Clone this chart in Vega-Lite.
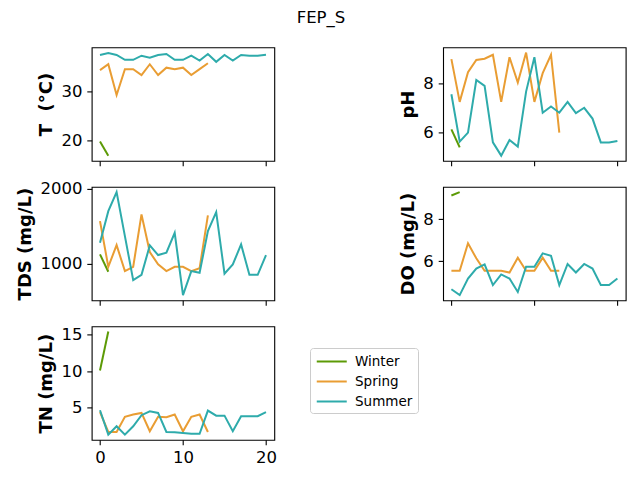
{
  "$schema": "https://vega.github.io/schema/vega-lite/v6.json",
  "autosize": {"type": "none"},
  "padding": {"left": 91.7, "top": 47.4, "right": 548.3, "bottom": 432.6},
  "title": {"text": "FEP_S", "anchor": "middle", "frame": "bounds", "fontSize": 16.5, "fontWeight": "normal", "color": "black", "font": "DejaVu Sans", "offset": 20},
  "datasets": {
    "d": [
      {"s": "Winter", "x": 0, "T": 19.8, "pH": 6.12, "TDS": 1120, "DO": 9.14, "TN": 10.08},
      {"s": "Winter", "x": 1, "T": 16.9, "pH": 5.39, "TDS": 888, "DO": 9.30, "TN": 15.46},
      {"s": "Spring", "x": 0, "T": 34.4, "pH": 8.98, "TDS": 1564, "DO": 5.53, "TN": 4.31},
      {"s": "Spring", "x": 1, "T": 35.6, "pH": 7.24, "TDS": 955, "DO": 5.53, "TN": 1.57},
      {"s": "Spring", "x": 2, "T": 29.3, "pH": 8.45, "TDS": 1244, "DO": 6.85, "TN": 1.57},
      {"s": "Spring", "x": 3, "T": 34.6, "pH": 8.95, "TDS": 897, "DO": 6.13, "TN": 3.67},
      {"s": "Spring", "x": 4, "T": 34.6, "pH": 9.0, "TDS": 955, "DO": 5.53, "TN": 3.99},
      {"s": "Spring", "x": 5, "T": 33.4, "pH": 9.16, "TDS": 1653, "DO": 5.53, "TN": 4.21},
      {"s": "Spring", "x": 6, "T": 35.6, "pH": 7.24, "TDS": 1151, "DO": 5.53, "TN": 1.67},
      {"s": "Spring", "x": 7, "T": 33.4, "pH": 9.06, "TDS": 987, "DO": 5.45, "TN": 3.67},
      {"s": "Spring", "x": 8, "T": 34.9, "pH": 8.03, "TDS": 897, "DO": 6.16, "TN": 3.62},
      {"s": "Spring", "x": 9, "T": 34.6, "pH": 9.25, "TDS": 955, "DO": 5.53, "TN": 3.99},
      {"s": "Spring", "x": 10, "T": 34.9, "pH": 7.24, "TDS": 955, "DO": 5.53, "TN": 1.67},
      {"s": "Spring", "x": 11, "T": 33.4, "pH": 8.41, "TDS": 897, "DO": 6.16, "TN": 3.67},
      {"s": "Spring", "x": 12, "T": 34.6, "pH": 9.16, "TDS": 935, "DO": 5.53, "TN": 3.99},
      {"s": "Spring", "x": 13, "T": 35.8, "pH": 5.99, "TDS": 1640, "DO": 5.53, "TN": 1.57},
      {"s": "Summer", "x": 0, "T": 37.5, "pH": 7.55, "TDS": 1275, "DO": 4.65, "TN": 4.58},
      {"s": "Summer", "x": 1, "T": 37.9, "pH": 5.62, "TDS": 1697, "DO": 4.37, "TN": 1.2},
      {"s": "Summer", "x": 2, "T": 37.5, "pH": 5.99, "TDS": 1951, "DO": 5.16, "TN": 2.36},
      {"s": "Summer", "x": 3, "T": 36.5, "pH": 8.13, "TDS": 1364, "DO": 5.64, "TN": 1.2},
      {"s": "Summer", "x": 4, "T": 36.5, "pH": 7.89, "TDS": 777, "DO": 5.84, "TN": 2.36},
      {"s": "Summer", "x": 5, "T": 37.35, "pH": 5.59, "TDS": 848, "DO": 4.85, "TN": 3.89},
      {"s": "Summer", "x": 6, "T": 36.95, "pH": 5.05, "TDS": 1240, "DO": 5.36, "TN": 4.44},
      {"s": "Summer", "x": 7, "T": 37.5, "pH": 5.69, "TDS": 1111, "DO": 5.16, "TN": 4.21},
      {"s": "Summer", "x": 8, "T": 37.7, "pH": 5.42, "TDS": 1142, "DO": 4.52, "TN": 1.57},
      {"s": "Summer", "x": 9, "T": 36.5, "pH": 7.66, "TDS": 1408, "DO": 5.73, "TN": 1.52},
      {"s": "Summer", "x": 10, "T": 36.5, "pH": 9.06, "TDS": 577, "DO": 5.73, "TN": 1.43},
      {"s": "Summer", "x": 11, "T": 37.35, "pH": 6.8, "TDS": 897, "DO": 6.37, "TN": 1.33},
      {"s": "Summer", "x": 12, "T": 36.35, "pH": 7.05, "TDS": 875, "DO": 6.25, "TN": 1.33},
      {"s": "Summer", "x": 13, "T": 37.7, "pH": 6.8, "TDS": 1431, "DO": 4.85, "TN": 4.53},
      {"s": "Summer", "x": 14, "T": 36.1, "pH": 7.24, "TDS": 1684, "DO": 5.86, "TN": 3.83},
      {"s": "Summer", "x": 15, "T": 37.5, "pH": 6.78, "TDS": 862, "DO": 5.45, "TN": 3.83},
      {"s": "Summer", "x": 16, "T": 36.35, "pH": 7.0, "TDS": 987, "DO": 5.86, "TN": 1.67},
      {"s": "Summer", "x": 17, "T": 37.5, "pH": 6.56, "TDS": 1253, "DO": 5.64, "TN": 3.75},
      {"s": "Summer", "x": 18, "T": 37.35, "pH": 5.59, "TDS": 848, "DO": 4.85, "TN": 3.75},
      {"s": "Summer", "x": 19, "T": 37.35, "pH": 5.59, "TDS": 848, "DO": 4.85, "TN": 3.75},
      {"s": "Summer", "x": 20, "T": 37.55, "pH": 5.65, "TDS": 1111, "DO": 5.16, "TN": 4.31}
    ]
  },
  "data": {"name": "d"},
  "columns": 2,
  "bounds": "flush",
  "spacing": {"row": 25.5, "column": 168.4},
  "concat": [
    {
      "width": 182.6, "height": 113.4,
      "mark": {"type": "line", "strokeWidth": 2},
      "encoding": {
        "x": {"field": "x", "type": "quantitative", "scale": {"domain": [-1, 21], "nice": false}, "axis": {"title": null, "labels": false, "values": [0, 10, 20]}},
        "y": {"field": "T", "type": "quantitative", "scale": {"domain": [15.85, 39.05], "nice": false, "zero": false}, "axis": {"title": "T \u00a0(°C)", "values": [20, 30]}},
        "color": {"field": "s", "type": "nominal", "scale": {"domain": ["Winter", "Spring", "Summer"], "range": ["#5c9a06", "#e99d33", "#2eabab"]}, "legend": {"title": null, "orient": "none", "legendX": 218.3, "legendY": 300.6}}
      }
    },
    {
      "width": 182.6, "height": 113.4,
      "mark": {"type": "line", "strokeWidth": 2},
      "encoding": {
        "x": {"field": "x", "type": "quantitative", "scale": {"domain": [-1, 21], "nice": false}, "axis": {"title": null, "labels": false, "values": [0, 10, 20]}},
        "y": {"field": "pH", "type": "quantitative", "scale": {"domain": [4.84, 9.46], "nice": false, "zero": false}, "axis": {"title": "pH", "values": [6, 8]}},
        "color": {"field": "s", "type": "nominal", "scale": {"domain": ["Winter", "Spring", "Summer"], "range": ["#5c9a06", "#e99d33", "#2eabab"]}, "legend": {"title": null, "orient": "none", "legendX": 218.3, "legendY": 300.6}}
      }
    },
    {
      "width": 182.6, "height": 113.4,
      "mark": {"type": "line", "strokeWidth": 2},
      "encoding": {
        "x": {"field": "x", "type": "quantitative", "scale": {"domain": [-1, 21], "nice": false}, "axis": {"title": null, "labels": false, "values": [0, 10, 20]}},
        "y": {"field": "TDS", "type": "quantitative", "scale": {"domain": [508, 2020], "nice": false, "zero": false}, "axis": {"title": "TDS (mg/L)", "values": [1000, 2000], "format": "d"}},
        "color": {"field": "s", "type": "nominal", "scale": {"domain": ["Winter", "Spring", "Summer"], "range": ["#5c9a06", "#e99d33", "#2eabab"]}, "legend": {"title": null, "orient": "none", "legendX": 218.3, "legendY": 300.6}}
      }
    },
    {
      "width": 182.6, "height": 113.4,
      "mark": {"type": "line", "strokeWidth": 2},
      "encoding": {
        "x": {"field": "x", "type": "quantitative", "scale": {"domain": [-1, 21], "nice": false}, "axis": {"title": null, "labels": false, "values": [0, 10, 20]}},
        "y": {"field": "DO", "type": "quantitative", "scale": {"domain": [4.12, 9.55], "nice": false, "zero": false}, "axis": {"title": "DO (mg/L)", "values": [6, 8]}},
        "color": {"field": "s", "type": "nominal", "scale": {"domain": ["Winter", "Spring", "Summer"], "range": ["#5c9a06", "#e99d33", "#2eabab"]}, "legend": {"title": null, "orient": "none", "legendX": 218.3, "legendY": 300.6}}
      }
    },
    {
      "width": 182.6, "height": 113.4,
      "mark": {"type": "line", "strokeWidth": 2},
      "encoding": {
        "x": {"field": "x", "type": "quantitative", "scale": {"domain": [-1, 21], "nice": false}, "axis": {"title": null, "values": [0, 10, 20]}},
        "y": {"field": "TN", "type": "quantitative", "scale": {"domain": [0.49, 16.17], "nice": false, "zero": false}, "axis": {"title": "TN (mg/L)", "values": [5, 10, 15]}},
        "color": {"field": "s", "type": "nominal", "scale": {"domain": ["Winter", "Spring", "Summer"], "range": ["#5c9a06", "#e99d33", "#2eabab"]}, "legend": {"title": null, "orient": "none", "legendX": 218.3, "legendY": 300.6}}
      }
    }
  ],
  "config": {
    "font": "DejaVu Sans",
    "background": "white",
    "view": {"stroke": "black", "strokeWidth": 1.1},
    "axis": {"domain": false, "grid": false, "tickColor": "black", "tickSize": 4.9, "tickWidth": 1.1, "labelFontSize": 16.5, "labelColor": "black", "labelPadding": 4.9, "labelFlush": false, "labelOverlap": false, "labelFont": "DejaVu Sans", "titleFont": "DejaVu Sans", "titleFontSize": 18, "titleFontWeight": "bold", "titleColor": "black", "titlePadding": 5.6},
    "legend": {"strokeColor": "#cccccc", "strokeWidth": 1, "fillColor": "rgba(255,255,255,0.8)", "cornerRadius": 3, "padding": 5, "symbolType": "M-0.9,0H3.1", "symbolSize": 225, "symbolStrokeWidth": 2, "labelFontSize": 13.5, "labelFont": "DejaVu Sans", "labelColor": "black", "labelOffset": 23, "rowPadding": 5}
  }
}
